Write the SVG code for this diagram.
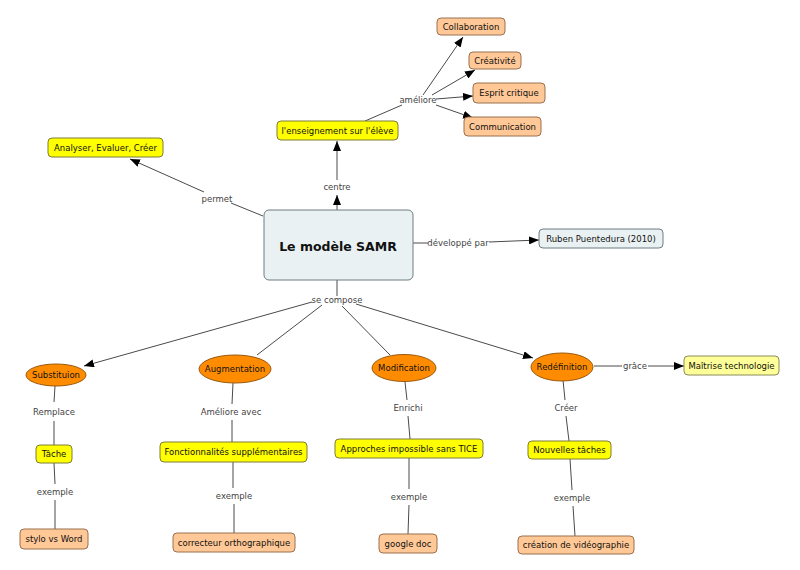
<svg xmlns="http://www.w3.org/2000/svg" width="800" height="570" viewBox="0 0 800 570">
<style>
.c{stroke:#4a4a4a;stroke-width:1;fill:none}
.a{marker-end:url(#arr)}
.y{fill:#ffff00;stroke:#7d7d3a;stroke-width:1}
.p{fill:#ffc896;stroke:#9a7050;stroke-width:1}
.e{fill:#ff8c00;stroke:#9a5a10;stroke-width:1}
.ly{fill:#ffff99;stroke:#8c8c5a;stroke-width:1}
.b{fill:#eaf1f3;stroke:#6f7c82;stroke-width:1}
text{font-family:"DejaVu Sans",Verdana,sans-serif;font-size:8.5px;text-anchor:middle}
.t{fill:#111}
.l{fill:#444}
.big{font-size:12.5px;font-weight:bold;fill:#111}
</style>
<defs>
<marker id="arr" markerUnits="userSpaceOnUse" markerWidth="10" markerHeight="8" refX="10" refY="4" orient="auto">
<path d="M0,0 L10,4 L0,8 z" fill="#000"/>
</marker>
</defs>
<rect width="800" height="570" fill="#fff"/>
<g id="connectors">
<line class="c a" x1="337" y1="210" x2="337" y2="195"/>
<line class="c a" x1="337" y1="180" x2="337" y2="141"/>
<line class="c" x1="365" y1="121" x2="402" y2="105"/>
<line class="c a" x1="423" y1="95" x2="463" y2="37"/>
<line class="c a" x1="432" y1="95" x2="475" y2="70"/>
<line class="c a" x1="436" y1="99" x2="473" y2="96"/>
<line class="c a" x1="436" y1="105" x2="473" y2="118"/>
<line class="c" x1="263" y1="216" x2="231" y2="203"/>
<line class="c a" x1="204" y1="192" x2="130" y2="159"/>
<line class="c" x1="413" y1="243" x2="428" y2="243"/>
<line class="c a" x1="489" y1="242" x2="539" y2="240"/>
<line class="c" x1="337" y1="280" x2="337" y2="296"/>
<line class="c a" x1="312" y1="302" x2="84" y2="366"/>
<line class="c" x1="322" y1="305" x2="257" y2="355"/>
<line class="c" x1="342" y1="306" x2="390" y2="355"/>
<line class="c a" x1="356" y1="304" x2="533" y2="358"/>
<line class="c" x1="594" y1="366" x2="622" y2="366"/>
<line class="c a" x1="648" y1="366" x2="684" y2="366"/>
<line class="c" x1="55" y1="386" x2="54" y2="402"/>
<line class="c" x1="54" y1="421" x2="54" y2="445"/>
<line class="c" x1="54" y1="463" x2="55" y2="484"/>
<line class="c" x1="55" y1="500" x2="55" y2="529"/>
<line class="c" x1="233" y1="383" x2="232" y2="404"/>
<line class="c" x1="232" y1="420" x2="232" y2="442"/>
<line class="c" x1="233" y1="462" x2="233" y2="488"/>
<line class="c" x1="234" y1="504" x2="234" y2="533"/>
<line class="c" x1="405" y1="382" x2="407" y2="400"/>
<line class="c" x1="408" y1="416" x2="410" y2="439"/>
<line class="c" x1="409" y1="458" x2="409" y2="489"/>
<line class="c" x1="409" y1="505" x2="408" y2="534"/>
<line class="c" x1="563" y1="380" x2="565" y2="400"/>
<line class="c" x1="566" y1="416" x2="569" y2="441"/>
<line class="c" x1="570" y1="459" x2="572" y2="490"/>
<line class="c" x1="573" y1="506" x2="575" y2="536"/>
</g>
<g id="labels">
<text class="l" x="337" y="190">centre</text>
<text class="l" x="418" y="103">améliore</text>
<text class="l" x="217" y="202">permet</text>
<text class="l" x="458" y="246">développé par</text>
<text class="l" x="337" y="303">se compose</text>
<text class="l" x="635" y="369">grâce</text>
<text class="l" x="54" y="415">Remplace</text>
<text class="l" x="55" y="495">exemple</text>
<text class="l" x="231" y="415">Améliore avec</text>
<text class="l" x="234" y="499">exemple</text>
<text class="l" x="408" y="411">Enrichi</text>
<text class="l" x="409" y="500">exemple</text>
<text class="l" x="566" y="411">Créer</text>
<text class="l" x="572" y="501">exemple</text>
</g>
<g id="samr"><rect class="b" x="264" y="210" width="149" height="70" rx="5"/><text class="big" x="338" y="251">Le modèle SAMR</text></g>
<g id="enseignement"><rect class="y" x="277" y="121" width="121" height="19" rx="4"/><text class="t" x="337.5" y="133.5">l'enseignement sur l'élève</text></g>
<g id="collaboration"><rect class="p" x="437" y="18" width="68" height="17" rx="4"/><text class="t" x="471" y="29.5">Collaboration</text></g>
<g id="creativite"><rect class="p" x="469" y="52" width="52" height="17" rx="4"/><text class="t" x="495" y="63.5">Créativité</text></g>
<g id="esprit"><rect class="p" x="473" y="83" width="72" height="20" rx="4"/><text class="t" x="509" y="96">Esprit critique</text></g>
<g id="communication"><rect class="p" x="464" y="117" width="77" height="19" rx="4"/><text class="t" x="502.5" y="129.5">Communication</text></g>
<g id="analyser"><rect class="y" x="48" y="138" width="115" height="19" rx="4"/><text class="t" x="105.5" y="150.5">Analyser, Evaluer, Créer</text></g>
<g id="ruben"><rect class="b" x="539" y="229" width="124" height="19" rx="4"/><text class="t" x="601" y="241.5">Ruben Puentedura (2010)</text></g>
<g id="substituion"><ellipse class="e" cx="56" cy="375" rx="30" ry="11"/><text class="t" x="56" y="378">Substituion</text></g>
<g id="augmentation"><ellipse class="e" cx="235" cy="369" rx="36" ry="14"/><text class="t" x="235" y="372">Augmentation</text></g>
<g id="modification"><ellipse class="e" cx="404" cy="368" rx="32" ry="13.5"/><text class="t" x="404" y="371">Modification</text></g>
<g id="redefinition"><ellipse class="e" cx="562" cy="367" rx="31" ry="14"/><text class="t" x="562" y="370">Redéfinition</text></g>
<g id="maitrise"><rect class="ly" x="684" y="356" width="95" height="19" rx="4"/><text class="t" x="731.5" y="368.5">Maîtrise technologie</text></g>
<g id="tache"><rect class="y" x="36" y="445" width="36" height="18" rx="4"/><text class="t" x="54" y="457">Tâche</text></g>
<g id="stylo"><rect class="p" x="20" y="529" width="68" height="20" rx="4"/><text class="t" x="54" y="542">stylo vs Word</text></g>
<g id="fonctionnalites"><rect class="y" x="160" y="442" width="147" height="20" rx="4"/><text class="t" x="233.5" y="455">Fonctionnalités supplémentaires</text></g>
<g id="correcteur"><rect class="p" x="173" y="533" width="122" height="19" rx="4"/><text class="t" x="234" y="545.5">correcteur orthographique</text></g>
<g id="approches"><rect class="y" x="335" y="439" width="148" height="19" rx="4"/><text class="t" x="409" y="451.5">Approches impossible sans TICE</text></g>
<g id="google"><rect class="p" x="379" y="534" width="58" height="19" rx="4"/><text class="t" x="408" y="546.5">google doc</text></g>
<g id="nouvelles"><rect class="y" x="528" y="441" width="83" height="18" rx="4"/><text class="t" x="569.5" y="453">Nouvelles tâches</text></g>
<g id="creation"><rect class="p" x="518" y="536" width="116" height="18" rx="4"/><text class="t" x="576" y="548">création de vidéographie</text></g>
</svg>
